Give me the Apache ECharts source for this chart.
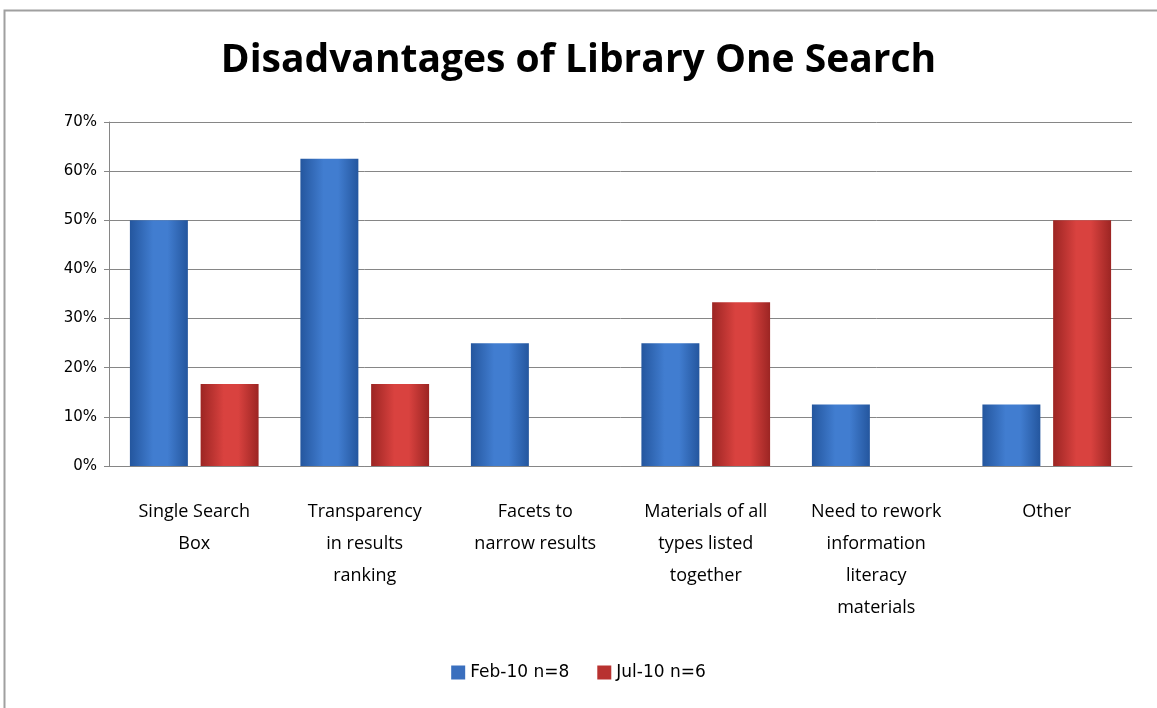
<!DOCTYPE html>
<html><head><meta charset="utf-8">
<script src="https://cdn.jsdelivr.net/npm/echarts@6/dist/echarts.min.js"></script>
<style>html,body{margin:0;padding:0;background:#fff}#c{width:1157px;height:708px}</style>
</head><body><div id="c"></div>
<script>
const categories = ["Single Search\nBox", "Transparency\nin results\nranking", "Facets to\nnarrow results", "Materials of all\ntypes listed\ntogether", "Need to rework\ninformation\nliteracy\nmaterials", "Other"];
const feb10 = [50, 62.5, 25, 25, 12.5, 12.5];
const jul10 = [16.7, 16.7, 0, 33.3, 0, 50];
const seriesNames = ["Feb-10 n=8", "Jul-10 n=6"];
const yTicks = [0, 10, 20, 30, 40, 50, 60, 70];

function grad(edge, mid){
  return new echarts.graphic.LinearGradient(0,0,1,0,[
    {offset:0,color:edge},{offset:0.4,color:mid},{offset:0.65,color:mid},{offset:1,color:edge}]);
}
const chart = echarts.init(document.getElementById('c'), null, {renderer:'canvas'});
chart.setOption({
  animation:false,
  backgroundColor:'#fff',
  graphic:[{type:'rect',shape:{x:4.5,y:10.5,width:1160,height:710},style:{fill:'none',stroke:'#a0a0a0',lineWidth:2},z:-1}],
  title:{text:'Disadvantages of Library One Search',left:'center',top:36,
    textStyle:{fontFamily:'Open Sans',fontWeight:'bold',fontSize:39,color:'#000'}},
  legend:{bottom:22,left:'center',itemWidth:14,itemHeight:14,itemGap:28,
    textStyle:{fontFamily:'DejaVu Sans',fontSize:17,color:'#000'},
    data:[{name:seriesNames[0],icon:'rect',itemStyle:{color:'#3a6fbe'}},{name:seriesNames[1],icon:'rect',itemStyle:{color:'#b83230'}}]},
  grid:{left:109,right:25,top:122,bottom:242},
  xAxis:{type:'category',data:categories,
    axisLine:{lineStyle:{color:'#868686'}},axisTick:{show:false},
    axisLabel:{interval:0,margin:30,fontFamily:'Open Sans',fontSize:18,lineHeight:32,color:'#000'}},
  yAxis:{type:'value',min:0,max:70,interval:10,
    axisLine:{show:true,lineStyle:{color:'#868686'}},axisTick:{show:true,length:5,lineStyle:{color:'#868686'}},
    splitLine:{lineStyle:{color:'#868686'}},
    axisLabel:{formatter:v=>v+'%',fontFamily:'DejaVu Sans',fontSize:15,color:'#000',margin:12}},
  series:[
    {name:seriesNames[0],type:'bar',data:feb10,barWidth:'34%',barGap:'22%',
      itemStyle:{color:grad('#24569e','#417dd0'),borderColor:'#2a5a9e',borderWidth:0}},
    {name:seriesNames[1],type:'bar',data:jul10,barWidth:'34%',barGap:'22%',
      itemStyle:{color:grad('#9c2523','#d9423f'),borderColor:'#a02a28',borderWidth:0}}
  ]
});
</script></body></html>
